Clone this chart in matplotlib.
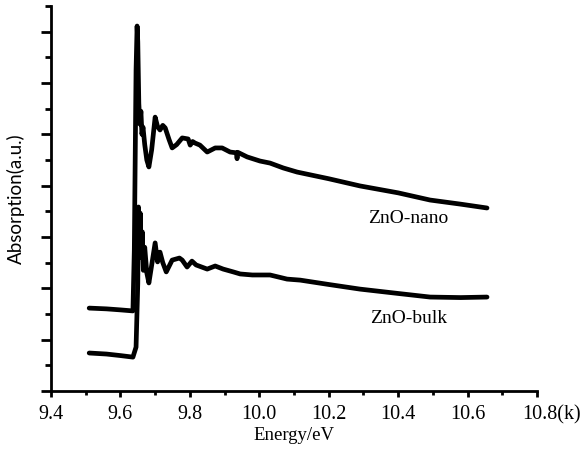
import matplotlib
matplotlib.use("Agg")
import matplotlib.pyplot as plt
import matplotlib.transforms as mtransforms
from matplotlib.ticker import MultipleLocator

# ZnO-nano (upper curve), energy in eV, absorption in arbitrary units
nano_e = [9.51, 9.560, 9.600, 9.636, 9.640, 9.645, 9.648, 9.650, 9.653, 9.656,
          9.659, 9.662, 9.665, 9.670, 9.676, 9.682, 9.690, 9.700, 9.707, 9.714,
          9.722, 9.729, 9.740, 9.749, 9.762, 9.778, 9.795, 9.801, 9.808, 9.815,
          9.829, 9.850, 9.873, 9.893, 9.916, 9.934, 9.936, 9.938, 9.965, 10.002,
          10.031, 10.069, 10.109, 10.200, 10.290, 10.400, 10.492, 10.580, 10.656]
nano_a = [3.23, 3.20, 3.16, 3.12, 5.50, 12.50, 14.22, 13.60, 11.20, 10.40,
          10.90, 10.00, 10.28, 9.60, 9.00, 8.73, 9.40, 10.67, 10.30, 10.17,
          10.35, 10.25, 9.80, 9.47, 9.60, 9.86, 9.82, 9.58, 9.72, 9.66,
          9.58, 9.31, 9.47, 9.47, 9.31, 9.28, 9.05, 9.30, 9.12, 8.96,
          8.88, 8.69, 8.53, 8.27, 7.99, 7.72, 7.44, 7.28, 7.13]

# ZnO-bulk (lower curve)
bulk_e = [9.51, 9.560, 9.600, 9.636, 9.645, 9.650, 9.652, 9.655, 9.657, 9.660,
          9.663, 9.666, 9.670, 9.676, 9.682, 9.690, 9.700, 9.707, 9.714, 9.722,
          9.732, 9.749, 9.770, 9.778, 9.792, 9.806, 9.818, 9.850, 9.873, 9.896,
          9.925, 9.945, 9.980, 10.031, 10.080, 10.118, 10.200, 10.290, 10.400,
          10.492, 10.580, 10.656]
bulk_a = [1.48, 1.44, 1.38, 1.32, 1.71, 4.20, 7.17, 6.10, 6.93, 5.20,
          6.20, 4.70, 5.60, 4.60, 4.21, 4.90, 5.77, 5.03, 5.41, 5.00,
          4.64, 5.10, 5.18, 5.10, 4.83, 5.06, 4.91, 4.75, 4.87, 4.75,
          4.64, 4.56, 4.52, 4.52, 4.36, 4.32, 4.15, 3.97, 3.80,
          3.66, 3.64, 3.66]

xticks = [9.4, 9.6, 9.8, 10.0, 10.2, 10.4, 10.6, 10.8]
xticklabels = ["9.4", "9.6", "9.8", "10.0", "10.2", "10.4", "10.6", "10.8(k)"]

fig = plt.figure(figsize=(5.88, 4.5), dpi=100)
ax = fig.add_axes([51/588, 1 - 391/450, (537 - 51)/588, (391 - 6)/450])

ax.plot(nano_e, nano_a, color="black", lw=3.4, solid_joinstyle="round", solid_capstyle="round")
ax.plot(bulk_e, bulk_a, color="black", lw=3.4, solid_joinstyle="round", solid_capstyle="round")

ax.set_xlim(9.4, 10.8)
ax.set_ylim(0, 15)
ax.spines["top"].set_visible(False)
ax.spines["right"].set_visible(False)
ax.spines["left"].set_linewidth(2)
ax.spines["bottom"].set_linewidth(2)

ax.set_xticks(xticks)
ax.set_xticklabels(xticklabels, family="Liberation Serif", fontsize=14.5)
ax.xaxis.set_minor_locator(MultipleLocator(0.1))
ax.yaxis.set_major_locator(MultipleLocator(2))
ax.yaxis.set_minor_locator(MultipleLocator(1))
ax.set_yticklabels([])
ax.tick_params(axis="x", which="major", length=4, width=2, pad=6)
ax.tick_params(axis="x", which="minor", length=3, width=2)
ax.tick_params(axis="y", which="major", length=7, width=2)
ax.tick_params(axis="y", which="minor", length=4, width=2)

# shift "10.8(k)" so that the number sits on its tick
last = ax.get_xticklabels()[-1]
last.set_transform(last.get_transform() + mtransforms.ScaledTranslation(0.15, 0, fig.dpi_scale_trans))

ax.set_xlabel("Energy/eV", family="Liberation Serif", fontsize=13.5, labelpad=2)
ax.set_ylabel("Absorption(a.u.)", family="Lato", fontsize=13.5)
ax.yaxis.set_label_coords(-0.053, 0.5)

ax.text(10.43, 6.74, "ZnO-nano", family="Liberation Serif", fontsize=14, ha="center", va="center")
ax.text(10.43, 2.84, "ZnO-bulk", family="Liberation Serif", fontsize=14, ha="center", va="center")

fig.savefig("out.png", dpi=100)
